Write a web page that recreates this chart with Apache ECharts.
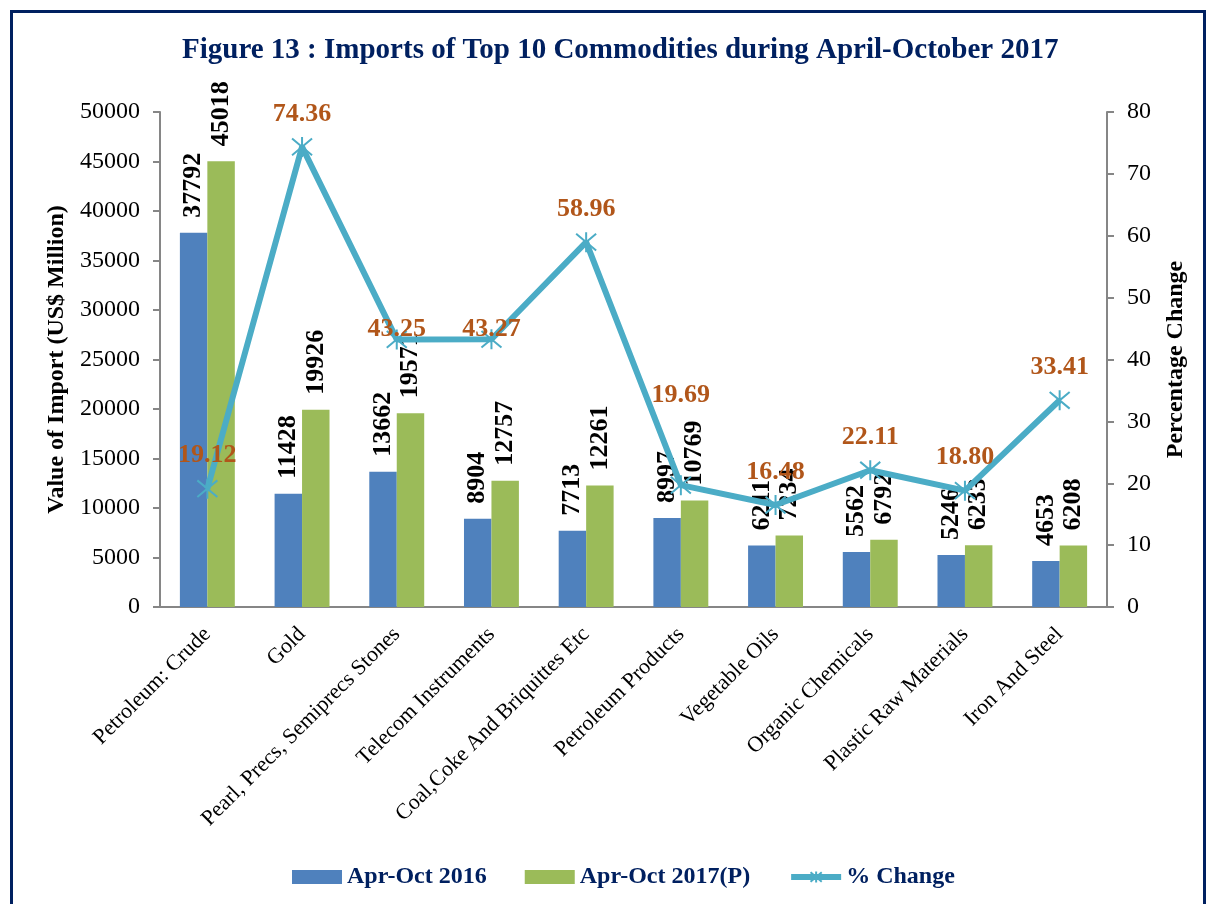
<!doctype html>
<html>
 <head>
  <meta charset="UTF-8">
  <script src="https://cdn.jsdelivr.net/npm/echarts@6/dist/echarts.min.js"></script>
  <title>Imports of Top 10 Commodities</title>
  <style>
   body { margin: 0; background: #fff; }
   #frame { position: absolute; left: 10px; top: 10px; width: 1196px; height: 900px; border: 3px solid #002060; border-bottom: none; box-sizing: border-box; }
   #chart { position: absolute; left: 0; top: 0; width: 1209px; height: 904px; }
  </style>
 </head>
 <body>
  <div id="frame"></div>
  <div id="chart"></div>
 <script type="text/javascript">
    var categories = ['Petroleum: Crude', 'Gold', 'Pearl, Precs, Semiprecs Stones', 'Telecom Instruments',
        'Coal,Coke And Briquittes Etc', 'Petroleum Products', 'Vegetable Oils', 'Organic Chemicals',
        'Plastic Raw Materials', 'Iron And Steel'];
    var apr2016 = [37792, 11428, 13662, 8904, 7713, 8997, 6211, 5562, 5246, 4653];
    var apr2017 = [45018, 19926, 19571, 12757, 12261, 10769, 7234, 6792, 6233, 6208];
    var pctChange = [19.12, 74.36, 43.25, 43.27, 58.96, 19.69, 16.48, 22.11, 18.80, 33.41];

    var serif = '"Liberation Serif", "Times New Roman", serif';
    var star = 'path://M0,0L20,20M20,0L0,20M10,-2L10,22';
    // some % labels sit lower/higher in the original to dodge the bars
    var labelDistance = { 2: -14, 3: -14, 5: 66 };

    var myChart = echarts.init(document.getElementById('chart'));
    var barLabel = {
        show: true, position: 'top', rotate: 90, align: 'left', verticalAlign: 'middle',
        distance: 15, color: '#000', fontFamily: serif, fontWeight: 'bold', fontSize: 26
    };
    var axisStyle = { color: '#868686', width: 2 };
    myChart.setOption({
        animation: false,
        title: {
            text: 'Figure 13 : Imports of Top 10 Commodities during April-October 2017',
            left: 177, top: 31,
            textStyle: { fontFamily: serif, fontWeight: 'bold', fontSize: 29, color: '#002060' }
        },
        legend: {
            bottom: 10, left: 287, itemWidth: 50, itemHeight: 14, itemGap: 38,
            lineStyle: { width: 6 },
            textStyle: { fontFamily: serif, fontWeight: 'bold', fontSize: 24, color: '#002060' },
            data: [{ name: 'Apr-Oct 2016', icon: 'rect' }, { name: 'Apr-Oct 2017(P)', icon: 'rect' }, '% Change']
        },
        grid: { left: 160, right: 102, top: 112, bottom: 297 },
        xAxis: {
            type: 'category',
            data: categories,
            axisLine: { lineStyle: axisStyle },
            axisTick: { length: 7, lineStyle: axisStyle },
            axisLabel: { interval: 0, rotate: 45, fontFamily: serif, fontSize: 22, color: '#000', margin: 24 }
        },
        yAxis: [{
            type: 'value', min: 0, max: 50000, interval: 5000,
            name: 'Value of Import (US$ Million)', nameLocation: 'middle', nameGap: 80, nameRotate: 90,
            nameTextStyle: { fontFamily: serif, fontWeight: 'bold', fontSize: 24, color: '#000' },
            splitLine: { show: false },
            axisLine: { show: true, lineStyle: axisStyle },
            axisTick: { show: true, length: 7, lineStyle: axisStyle },
            axisLabel: { fontFamily: serif, fontSize: 24, color: '#000', margin: 20,
                formatter: function (v) { return String(v); } }
        }, {
            type: 'value', min: 0, max: 80, interval: 10,
            name: 'Percentage Change', nameLocation: 'middle', nameGap: 57, nameRotate: 90,
            nameTextStyle: { fontFamily: serif, fontWeight: 'bold', fontSize: 24, color: '#000' },
            splitLine: { show: false },
            axisLine: { show: true, lineStyle: axisStyle },
            axisTick: { show: true, length: 7, lineStyle: axisStyle },
            axisLabel: { fontFamily: serif, fontSize: 24, color: '#000', margin: 20 }
        }],
        series: [{
            name: 'Apr-Oct 2016', type: 'bar', data: apr2016,
            barGap: '0%', barCategoryGap: '42%',
            itemStyle: { color: '#4F81BD' },
            label: barLabel
        }, {
            name: 'Apr-Oct 2017(P)', type: 'bar', data: apr2017,
            itemStyle: { color: '#9BBB59' },
            label: barLabel
        }, {
            name: '% Change', type: 'line', yAxisIndex: 1,
            data: pctChange.map(function (v, i) {
                return i in labelDistance ? { value: v, label: { distance: labelDistance[i] } } : v;
            }),
            symbol: star, symbolSize: 20, z: 5,
            lineStyle: { color: '#4BACC6', width: 6 },
            itemStyle: { color: '#4BACC6', borderColor: '#4BACC6', borderWidth: 2 },
            label: {
                show: true, position: 'top', distance: 9,
                fontFamily: serif, fontWeight: 'bold', fontSize: 26, color: '#B1561A',
                formatter: function (p) { return p.value.toFixed(2); }
            }
        }]
    });
 </script>
 </body>
</html>
